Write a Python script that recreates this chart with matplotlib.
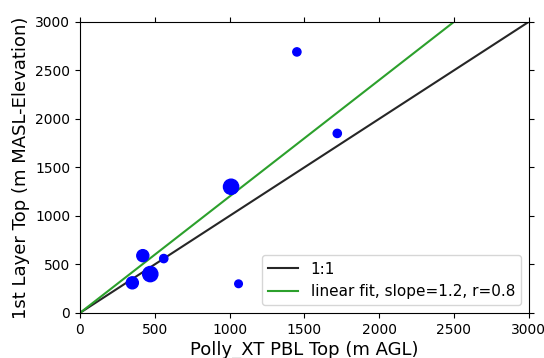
import numpy as np
import matplotlib.pyplot as plt

polly_top = [1450, 1720, 1010, 420, 560, 470, 350, 1060]
layer_top = [2690, 1850, 1300, 590, 560, 400, 310, 300]
marker_size = [35, 35, 120, 75, 35, 120, 75, 30]
slope = 1.2
r_val = 0.8

fig = plt.figure(figsize=(5.44, 3.58), dpi=100)
ax = fig.add_axes([0.147, 0.126, 0.825, 0.813])

ax.scatter(polly_top, layer_top, s=marker_size, c='blue', zorder=3)
line_x = np.array([0, 3000])
ax.plot(line_x, line_x, color='#262626', lw=1.5, label='1:1')
ax.plot(line_x, slope * line_x, color='#2ca02c', lw=1.5,
        label='linear fit, slope=%.1f, r=%.1f' % (slope, r_val))

ax.set_xlim(0, 3000)
ax.set_ylim(0, 3000)
ax.tick_params(top=True, right=True, labelsize=10, length=3.5)
ax.set_xlabel('Polly_XT PBL Top (m AGL)', fontsize=13, labelpad=3)
ax.set_ylabel('1st Layer Top (m MASL-Elevation)', fontsize=13, labelpad=4)
ax.legend(loc='lower right', fontsize=11)

fig.savefig('out.png', dpi=100)
